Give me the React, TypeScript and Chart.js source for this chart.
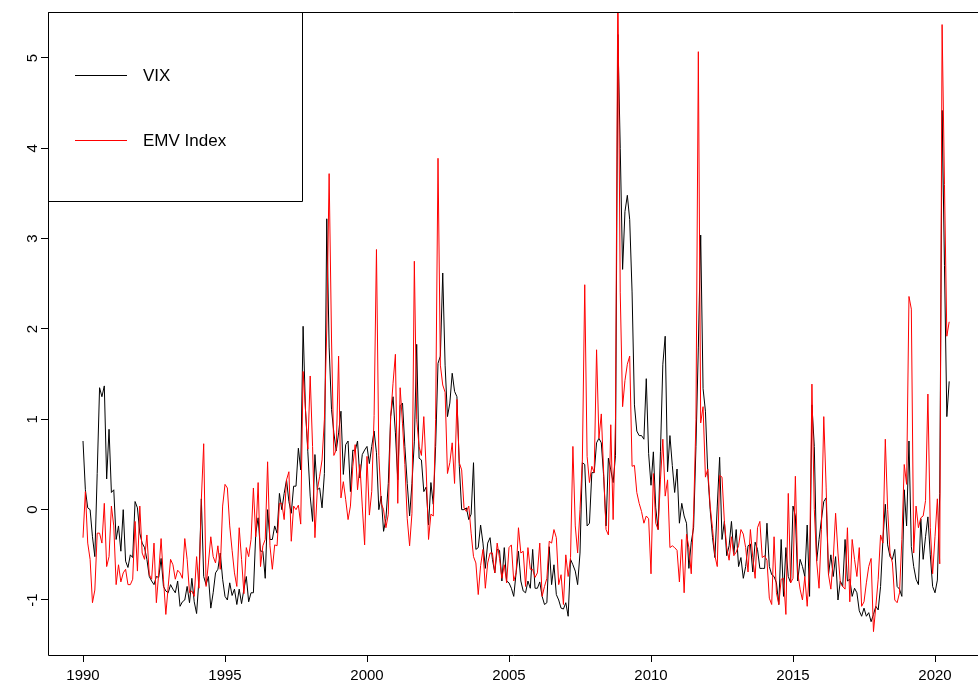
import React, { useEffect, useRef } from 'react';
import { Chart, registerables } from 'chart.js';

Chart.register(...registerables);

// Monthly series starting January 1990 (one value per month)
const startYear = 1990;

const vix1990s = [
  0.76, 0.22, 0.02, 0.0, -0.3, -0.52, 0.4, 1.35, 1.25, 1.37, 0.34, 0.89,
  0.19, 0.22, -0.33, -0.18, -0.46, 0.0, -0.57, -0.64, -0.5, -0.53, 0.09, 0.02,
  -0.26, -0.37, -0.42, -0.55, -0.74, -0.79, -0.83, -0.74, -0.75, -0.54, -0.85, -0.9,
  -0.92, -0.83, -0.88, -0.92, -0.79, -1.07, -1.02, -1.0, -0.85, -1.03, -0.76, -1.02,
  -1.15, -0.77, 0.12, -0.74, -0.83, -0.74, -1.09, -0.92, -0.7, -0.66, -0.48, -0.77,
  -0.96, -1.0, -0.81, -0.95, -0.88, -1.05, -0.88, -1.04, -0.88, -0.74, -1.02, -0.92,
  -0.92, -0.26, -0.09, -0.46, -0.46, -0.76, 0.0, -0.33, -0.33, -0.18, -0.26, 0.18,
  0.0, 0.18, 0.33, 0.09, -0.04, 0.26, 0.26, 0.68, 0.44, 2.03, 1.11, 0.64,
  0.15, -0.13, 0.61, 0.22, 0.24, 0.02, 0.4, 3.22, 1.8, 1.11, 0.85, 0.65,
  0.85, 1.09, 0.39, 0.72, 0.76, 0.2, 0.66, 0.65, 0.76, 0.35, 0.61, 0.66,
];

const vix2000s = [
  0.7, 0.51, 0.7, 0.87, 0.63, 0.0, 0.15, -0.24, -0.1, 0.29, 1.03, 1.25,
  0.85, 0.33, 1.15, 1.18, 0.7, 0.29, -0.07, 0.29, 0.75, 1.83, 0.57, 0.55,
  0.2, 0.25, -0.17, 0.3, 0.06, 0.7, 1.62, 1.7, 2.62, 1.6, 1.03, 1.18,
  1.51, 1.31, 1.25, 0.48, 0.0, 0.0, 0.02, -0.11, -0.05, 0.52, -0.44, -0.42,
  -0.17, -0.37, -0.65, -0.37, -0.31, -0.55, -0.7, -0.44, -0.45, -0.79, -0.42, -0.79,
  -0.81, -0.87, -0.96, -0.7, -0.46, -0.79, -0.9, -0.92, -0.79, -0.87, -0.44, -0.87,
  -0.87, -0.8, -0.96, -1.05, -1.03, -0.41, -0.83, -0.61, -0.94, -1.0, -1.09, -1.1,
  -1.03, -1.18, -0.55, -0.61, -0.68, -0.83, -0.48, 0.52, 0.5, -0.18, -0.15, 0.41,
  0.41, 0.74, 0.79, 0.74, 0.37, -0.18, 0.57, 0.44, 0.3, 0.6, 5.26, 4.0,
  2.66, 3.3, 3.48, 3.21, 2.41, 1.16, 0.87, 0.82, 0.82, 0.78, 1.45, 0.62,
];

const vix2010s = [
  0.27, 0.64, 0.02, -0.22, 0.64, 1.61, 1.92, 0.42, 0.82, 0.49, 0.19, 0.45,
  -0.15, 0.07, -0.07, -0.15, -0.65, -0.36, -0.2, 0.7, 1.8, 3.04, 1.34, 1.09,
  0.4, 0.0, -0.31, -0.53, 0.04, 0.58, -0.33, -0.13, -0.51, -0.4, -0.13, -0.49,
  -0.22, -0.63, -0.53, -0.76, -0.63, -0.4, -0.38, -0.69, -0.36, -0.44, -0.65, -0.65,
  -0.65, -0.15, -0.63, -0.72, -0.74, -0.81, -1.05, -0.33, -0.96, -0.42, -0.74, -0.81,
  0.04, -0.07, -0.79, -0.55, -0.63, -0.74, -0.17, -0.96, 1.16, 0.7, -0.57, -0.33,
  -0.11, 0.09, 0.13, -0.72, -0.5, -0.74, -0.52, -1.0, -0.79, -0.85, -0.33, -0.79,
  -0.77, -0.96, -0.87, -0.92, -1.12, -1.18, -1.09, -1.18, -1.14, -1.24, -1.16, -1.07,
  -1.11, -0.85, -0.33, 0.06, -0.39, -0.52, -0.55, -0.44, -0.85, -0.88, -0.96, 0.22,
  -0.18, 0.76, -0.41, -0.63, -0.77, -0.83, -0.1, -0.55, -0.3, -0.08, -0.5, -0.85,
  -0.92, -0.78, 0.18, 4.42, 2.7, 1.03, 1.42,
];

const emv1990s = [
  -0.31, 0.2, -0.37, -0.55, -1.03, -0.89, -0.26, -0.26, -0.37, 0.07, -0.63, -0.52,
  0.04, -0.18, -0.83, -0.61, -0.8, -0.7, -0.66, -0.83, -0.83, -0.77, -0.13, -0.68,
  0.04, -0.48, -0.55, -0.28, -0.72, -0.77, -0.37, -1.03, -0.7, -0.32, -0.77, -1.16,
  -0.85, -0.55, -0.61, -0.77, -0.67, -0.7, -0.76, -0.32, -0.55, -0.92, -0.9, -0.96,
  -0.52, -0.87, 0.11, 0.73, -0.85, -0.59, -0.3, -0.52, -0.59, -0.4, -0.66, 0.04,
  0.28, 0.24, -0.18, -0.45, -0.7, -0.85, -0.2, -0.55, -0.93, -0.42, -0.52, -0.33,
  0.24, -0.3, 0.3, -0.63, -0.4, -0.33, 0.53, -0.4, -0.66, -0.39, -0.4, 0.07,
  0.07, -0.11, 0.33, 0.42, -0.35, 0.04, 0.0, 0.05, -0.16, 1.53, 1.11, 0.67,
  1.48, 0.7, -0.31, 0.22, 0.37, 0.55, 1.0, 2.0, 3.72, 1.9, 0.6, 0.66,
  1.7, 0.13, 0.31, 0.11, -0.11, 0.04, 0.48, 0.72, 0.22, 0.5, 0.04, -0.39,
];

const emv2000s = [
  0.59, -0.06, 0.2, 1.04, 2.88, 0.6, 0.07, 0.0, -0.2, -0.05, 1.03, 1.4,
  1.72, 0.07, 1.35, 0.95, 0.5, -0.1, -0.4, -0.04, 2.75, 1.0, 0.7, 0.6,
  1.03, 0.45, -0.33, -0.05, -0.07, 1.0, 3.89, 1.6, 1.38, 1.3, 0.4, 0.52,
  0.74, 0.29, 1.22, 0.52, 0.44, 0.02, -0.02, 0.04, -0.26, -0.52, -0.59, -0.94,
  -0.62, -0.44, -0.87, -0.59, -0.48, -0.48, -0.7, -0.37, -0.54, -0.76, -0.61, -0.81,
  -0.42, -0.39, -0.79, -0.7, -0.2, -0.48, -0.46, -0.85, -0.42, -0.66, -0.66, -0.75,
  -0.7, -0.37, -0.96, -0.85, -0.76, -0.35, -0.37, -0.22, -0.31, -0.83, -0.72, -1.05,
  -0.5, -0.74, -0.53, 0.7, -0.18, -0.48, 0.0, 0.55, 2.49, 0.59, 0.3, 0.48,
  0.41, 1.77, 0.79, 1.06, 0.41, -0.22, -0.28, 0.94, -0.11, 1.0, 5.9, 2.4,
  1.14, 1.43, 1.61, 1.7, 0.48, 0.49, 0.19, 0.07, -0.02, -0.15, -0.07, -0.1,
];

const emv2010s = [
  -0.71, 0.4, -0.15, -0.22, 0.33, 0.78, 0.15, 0.33, -0.42, -0.4, -0.42, -0.45,
  -0.8, -0.33, -0.92, -0.27, -0.42, -0.71, -0.05, 1.0, 5.07, 0.96, 1.14, 0.36,
  0.45, 0.04, -0.21, -0.51, -0.63, 0.38, 0.36, -0.13, -0.42, -0.56, -0.3, -0.51,
  -0.47, -0.4, -0.22, -0.27, -0.42, -0.69, -0.22, -0.53, -0.76, -0.2, -0.13, -0.53,
  -0.51, -0.56, -0.98, -1.05, -0.3, -0.92, -1.05, -0.77, -0.76, -1.16, 0.18, -0.81,
  -0.76, 0.37, -0.7, -0.88, -1.0, -0.74, -1.07, -0.63, 1.39, 0.0, -0.57, -0.87,
  -0.22, 1.03, 0.25, -0.72, -0.88, -0.55, -0.04, -0.48, -0.81, -0.85, -0.88, -0.2,
  -1.02, -0.33, -0.55, -0.74, -0.42, -1.07, -1.02, -0.81, -0.63, -0.54, -1.35, -1.07,
  -0.77, -0.28, -0.37, 0.78, 0.0, -0.48, -0.59, -1.0, -1.03, -0.92, -0.33, 0.5,
  0.28, 2.36, 2.22, -0.48, 0.04, -0.2, -0.09, -0.07, 0.1, 1.28, -0.2, -0.71,
  -0.3, 0.12, -0.6, 5.37, 3.6, 1.92, 2.08,
];

const xTicks = [1990, 1995, 2000, 2005, 2010, 2015, 2020];
const yTicks = [-1, 0, 1, 2, 3, 4, 5];
const legendLabels = ['VIX', 'EMV Index'];
const legendColors = ['#000000', '#FF0000'];

const X_MIN = 1988.7676;
const X_MAX = 2021.514;
const Y_MIN = -1.6089;
const Y_MAX = 5.5092;
const FONT = '"Liberation Sans", Arial, Helvetica, sans-serif';

function toPoints(values: number[]) {
  return values.map((v, i) => ({ x: startYear + i / 12, y: v }));
}

const framePlugin = {
  id: 'rframe',
  afterDraw(chart: any) {
    const { ctx, chartArea: a, scales } = chart;
    ctx.save();
    ctx.strokeStyle = '#000000';
    ctx.lineWidth = 1;
    // plot box (right side lies beyond the picture)
    ctx.beginPath();
    ctx.moveTo(978, a.top + 0.5);
    ctx.lineTo(a.left + 0.5, a.top + 0.5);
    ctx.lineTo(a.left + 0.5, a.bottom + 0.5);
    ctx.lineTo(978, a.bottom + 0.5);
    ctx.stroke();

    // y tick labels, rotated like R
    ctx.fillStyle = '#000000';
    ctx.font = '15px ' + FONT;
    ctx.textAlign = 'center';
    ctx.textBaseline = 'middle';
    const ys = scales.y;
    for (const v of yTicks) {
      const py = ys.getPixelForValue(v);
      ctx.save();
      ctx.translate(33, py);
      ctx.rotate(-Math.PI / 2);
      ctx.fillText(String(v), 0, 0);
      ctx.restore();
    }

    // legend box
    const lx = a.left;
    const ly = a.top;
    const lw = 254;
    const lh = 189;
    ctx.fillStyle = '#ffffff';
    ctx.fillRect(lx + 1, ly + 1, lw - 1, lh - 1);
    ctx.beginPath();
    ctx.rect(lx + 0.5, ly + 0.5, lw, lh);
    ctx.stroke();
    ctx.textAlign = 'left';
    ctx.textBaseline = 'middle';
    ctx.font = '17px ' + FONT;
    legendLabels.forEach((label, k) => {
      const yy = ly + 63 + k * 65;
      ctx.strokeStyle = legendColors[k];
      ctx.beginPath();
      ctx.moveTo(lx + 27, yy + 0.5);
      ctx.lineTo(lx + 79, yy + 0.5);
      ctx.stroke();
      ctx.fillStyle = '#000000';
      ctx.fillText(label, lx + 95, yy + 1);
    });
    ctx.restore();
  },
};

export default function App() {
  const canvasRef = useRef<HTMLCanvasElement | null>(null);

  useEffect(() => {
    const canvas = canvasRef.current;
    if (!canvas) return;
    const vix = [...vix1990s, ...vix2000s, ...vix2010s];
    const emv = [...emv1990s, ...emv2000s, ...emv2010s];
    const chart = new Chart(canvas, {
      type: 'line',
      data: {
        datasets: [
          {
            label: 'EMV Index',
            data: toPoints(emv),
            borderColor: '#FF0000',
            borderWidth: 1,
            pointRadius: 0,
            tension: 0,
            fill: false,
            order: 1,
          },
          {
            label: 'VIX',
            data: toPoints(vix),
            borderColor: '#000000',
            borderWidth: 1,
            pointRadius: 0,
            tension: 0,
            fill: false,
            order: 2,
          },
        ],
      },
      options: {
        responsive: false,
        animation: false,
        devicePixelRatio: 1,
        events: [],
        layout: { padding: { top: 12, left: 0, right: 0, bottom: 0 } },
        plugins: {
          legend: { display: false },
          tooltip: { enabled: false },
        },
        scales: {
          x: {
            type: 'linear',
            min: X_MIN,
            max: X_MAX,
            afterBuildTicks: (s: any) => {
              s.ticks = xTicks.map((v) => ({ value: v }));
            },
            afterFit: (s: any) => {
              s.height = 38;
            },
            border: { display: false },
            grid: {
              drawOnChartArea: false,
              drawTicks: true,
              tickLength: 7,
              color: '#000000',
              tickColor: '#000000',
              lineWidth: 1,
            },
            ticks: {
              autoSkip: false,
              maxRotation: 0,
              minRotation: 0,
              padding: 5,
              color: '#000000',
              font: { family: FONT, size: 15 },
              callback: (v: any) => String(v),
            },
          },
          y: {
            type: 'linear',
            min: Y_MIN,
            max: Y_MAX,
            afterBuildTicks: (s: any) => {
              s.ticks = yTicks.map((v) => ({ value: v }));
            },
            afterFit: (s: any) => {
              s.width = 48;
            },
            border: { display: false },
            grid: {
              drawOnChartArea: false,
              drawTicks: true,
              tickLength: 7,
              color: '#000000',
              tickColor: '#000000',
              lineWidth: 1,
            },
            ticks: { display: false },
          },
        },
      },
      plugins: [framePlugin],
    });
    return () => chart.destroy();
  }, []);

  return (
    <div style={{ position: 'absolute', left: 0, top: 0, width: 978, height: 693, background: '#ffffff' }}>
      <canvas ref={canvasRef} width={978} height={693} style={{ display: 'block' }} />
    </div>
  );
}
